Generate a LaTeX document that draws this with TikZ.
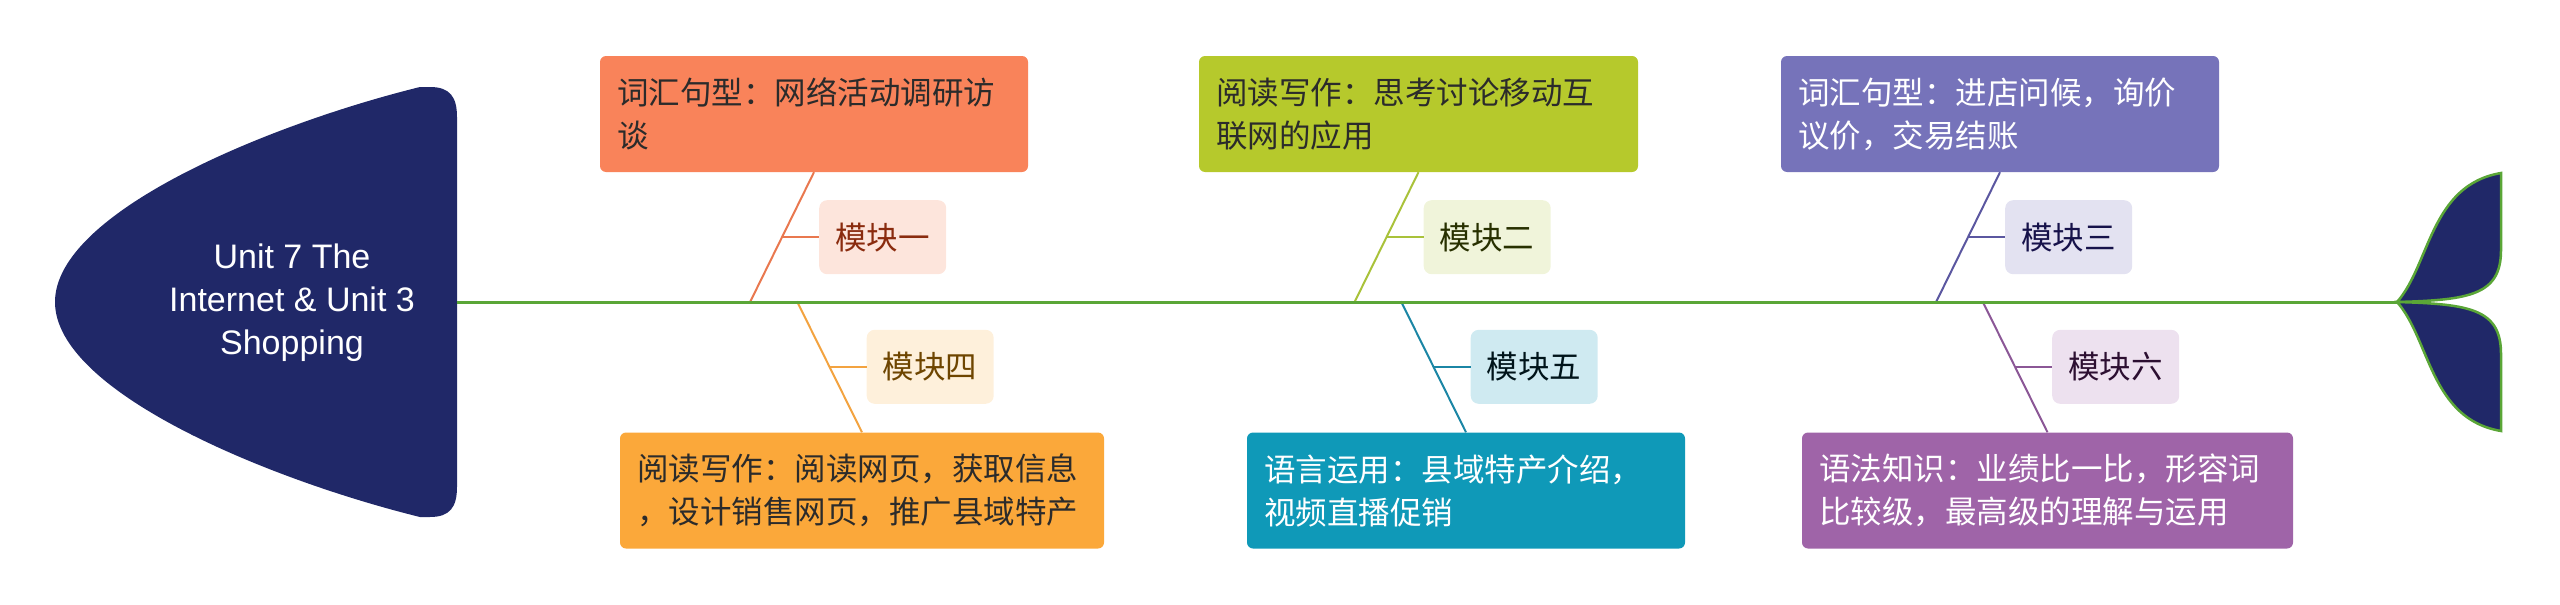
\documentclass[tikz,border=0pt]{standalone}
\usepackage{fontspec}
\setmainfont{Liberation Sans}
\newfontfamily\cjk{Noto Sans CJK SC}
\usepackage{xcolor}
\usepackage{tikz}
\usetikzlibrary{positioning}

\definecolor{navy}{HTML}{202868}
\definecolor{spinegreen}{HTML}{5AA637}
\definecolor{textdark}{HTML}{2B2B2B}
\definecolor{mod1}{HTML}{F9835A}
\definecolor{mod1line}{HTML}{E9784F}
\definecolor{mod1tag}{HTML}{FDE5DC}
\definecolor{mod1ink}{HTML}{8A2B0E}
\definecolor{mod2}{HTML}{B6C92C}
\definecolor{mod2line}{HTML}{A9C23A}
\definecolor{mod2tag}{HTML}{F0F4DA}
\definecolor{mod2ink}{HTML}{283000}
\definecolor{mod3}{HTML}{7673BA}
\definecolor{mod3line}{HTML}{5B57A0}
\definecolor{mod3tag}{HTML}{E3E2F1}
\definecolor{mod3ink}{HTML}{16124A}
\definecolor{mod4}{HTML}{FBA83A}
\definecolor{mod4line}{HTML}{F3A340}
\definecolor{mod4tag}{HTML}{FEF0DB}
\definecolor{mod4ink}{HTML}{6E4500}
\definecolor{mod5}{HTML}{0F99B8}
\definecolor{mod5line}{HTML}{1B86A5}
\definecolor{mod5tag}{HTML}{CFEAF1}
\definecolor{mod5ink}{HTML}{00141A}
\definecolor{mod6}{HTML}{9F64A8}
\definecolor{mod6line}{HTML}{8B5796}
\definecolor{mod6tag}{HTML}{EDE1EF}
\definecolor{mod6ink}{HTML}{2C0F31}

\begin{document}
\begin{tikzpicture}[
    x=1pt, y=-1pt,
    block/.style={
      rectangle,
      fill=#1,
      rounded corners=6pt,
      minimum height=116pt,
      inner xsep=17pt,
      align=left,
      font=\cjk\fontsize{31.5}{43}\selectfont
    },
    modtag/.style={
      rectangle,
      fill=#1,
      rounded corners=8pt,
      minimum width=127pt,
      minimum height=74pt,
      font=\cjk\fontsize{31.5}{43}\selectfont
    },
    bone/.style={draw=#1, line width=2pt},
    spine/.style={draw=spinegreen, line width=3pt},
    fin/.style={fill=navy, draw=spinegreen, line width=2.5pt},
]
    \useasboundingbox (0,0) rectangle (2560,605);

    % fish head
    \fill[navy] (420,87) -- (430,87) .. controls (450,87) and (457,97) .. (457,117)
      -- (457,487) .. controls (457,507) and (450,517) .. (430,517) -- (420,517)
      .. controls (270,480) and (55,392) .. (55,302)
      .. controls (55,212) and (270,124) .. cycle;
    \node [text=white, align=center, font=\fontsize{34}{43}\selectfont] (root) at (292,303) {Unit 7 The\\Internet \& Unit 3\\Shopping};

    \coordinate (neck) at (457,302);
    \coordinate (tail) at (2397,302);

    % topics
    \node [block=mod1, text=textdark, text width=394pt] (vocab) at (814,114) {词汇句型：网络活动调研访\\谈};
    \node [block=mod2, text=textdark, text width=405pt, node distance=604.5pt, right of=vocab] (mobile) {阅读写作：思考讨论移动互\\联网的应用};
    \node [block=mod3, text=white, text width=404pt, node distance=581.5pt, right of=mobile] (shop) {词汇句型：进店问候，询价\\议价，交易结账};
    \node [block=mod4, text=textdark, text width=450pt] (webpage) at (862,490.5) {阅读写作：阅读网页，获取信息\\，设计销售网页，推广县域特产};
    \node [block=mod5, text=white, text width=404pt, node distance=604pt, right of=webpage] (promo) {语言运用：县域特产介绍，\\视频直播促销};
    \node [block=mod6, text=white, text width=457pt, node distance=581.5pt, right of=promo] (grammar) {语法知识：业绩比一比，形容词\\比较级，最高级的理解与运用};

    % bones
    \draw [bone=mod1line] (vocab.south) -- coordinate[midway] (m1) ++(-64,130);
    \draw [bone=mod2line] (mobile.south) -- coordinate[midway] (m2) ++(-64,130);
    \draw [bone=mod3line] (shop.south) -- coordinate[midway] (m3) ++(-64,130);
    \draw [bone=mod4line] (webpage.north) -- coordinate[midway] (m4) ++(-65,-131);
    \draw [bone=mod5line] (promo.north) -- coordinate[midway] (m5) ++(-65,-131);
    \draw [bone=mod6line] (grammar.north) -- coordinate[midway] (m6) ++(-65,-131);

    \node [modtag=mod1tag, text=mod1ink, right=37pt of m1] (k1) {模块一};
    \node [modtag=mod2tag, text=mod2ink, right=37pt of m2] (k2) {模块二};
    \node [modtag=mod3tag, text=mod3ink, right=37pt of m3] (k3) {模块三};
    \node [modtag=mod4tag, text=mod4ink, right=37pt of m4] (k4) {模块四};
    \node [modtag=mod5tag, text=mod5ink, right=37pt of m5] (k5) {模块五};
    \node [modtag=mod6tag, text=mod6ink, right=37pt of m6] (k6) {模块六};

    \draw [bone=mod1line] (m1) -- (k1);
    \draw [bone=mod2line] (m2) -- (k2);
    \draw [bone=mod3line] (m3) -- (k3);
    \draw [bone=mod4line] (m4) -- (k4);
    \draw [bone=mod5line] (m5) -- (k5);
    \draw [bone=mod6line] (m6) -- (k6);

    % spine and tail
    \draw [spine] (neck) -- (tail);
    \filldraw [fin] (tail) .. controls (2430,265) and (2430,185) .. (2501,173)
      -- (2501,250) .. controls (2501,295) and (2470,300) .. cycle;
    \filldraw [fin] (tail) .. controls (2430,339) and (2430,419) .. (2501,431)
      -- (2501,354) .. controls (2501,309) and (2470,304) .. cycle;

\end{tikzpicture}
\end{document}
